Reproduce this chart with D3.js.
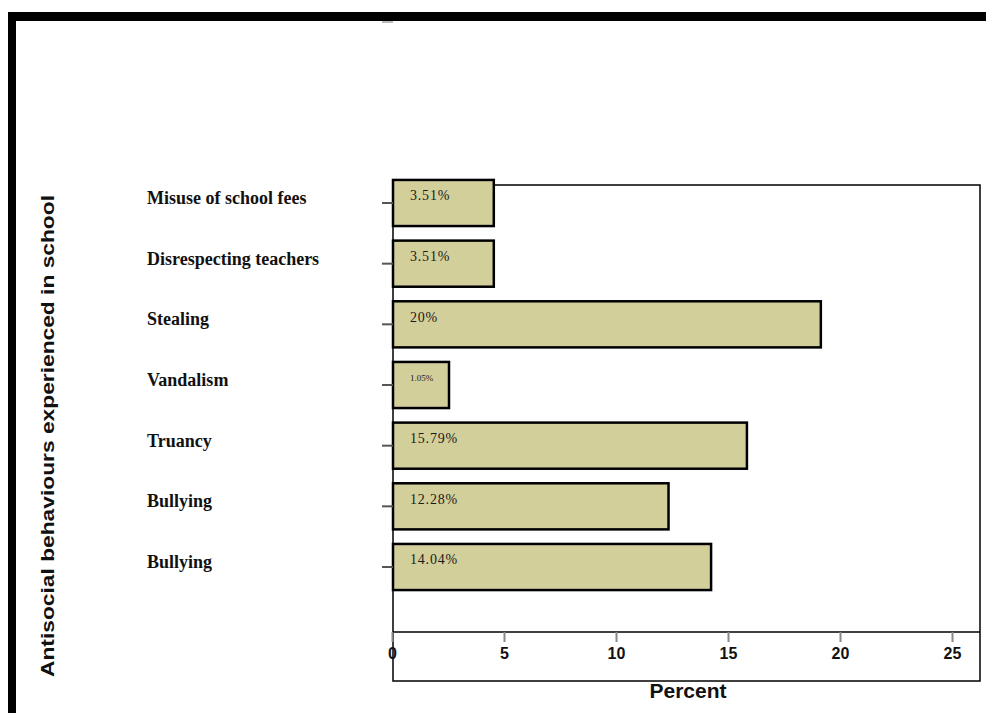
<!DOCTYPE html>
<html>
<head>
<meta charset="utf-8">
<script src="https://cdn.jsdelivr.net/npm/d3@7"></script>
<style>
    body { margin: 0; background: #fff; }
    svg { display: block; }
</style>
</head>
<body>
<div id="chart"></div>
<script>

// categories, top to bottom
let categories = ["Misuse of school fees", "Disrespecting teachers", "Stealing", "Vandalism", "Truancy", "Bullying", "Bullying"];

// bar lengths as drawn (percent)
let values = [4.5, 4.5, 19.1, 2.5, 15.8, 12.3, 14.2];

// text printed inside each bar
let barLabels = ["3.51%", "3.51%", "20%", "1.05%", "15.79%", "12.28%", "14.04%"];

let xTicks = [0, 5, 10, 15, 20, 25];

let width = 986, height = 713;

let svg = d3.select("#chart").append("svg")
    .attr("width", width)
    .attr("height", height);

// plot box
let box = {left: 393, right: 980, top: 185, axis: 632, bottom: 681};

// thick frame, top and left
svg.append("rect")
    .attr("x", 8).attr("y", 12)
    .attr("width", width - 8).attr("height", 9)
    .attr("fill", "#000");
svg.append("rect")
    .attr("x", 8).attr("y", 12)
    .attr("width", 8).attr("height", height - 12)
    .attr("fill", "#000");

// stray grey mark under the frame
svg.append("line")
    .attr("x1", 382).attr("x2", 393)
    .attr("y1", 22).attr("y2", 22)
    .attr("stroke", "#bbb").attr("stroke-width", 2);

// scales
let x = d3.scaleLinear()
    .domain([0, 26.25])
    .range([392, box.right]);

let step = 60.67;
let y = d3.scaleBand()
    .domain(d3.range(categories.length))
    .range([203 - step / 2, 567 + step / 2])
    .paddingInner(0.24)
    .paddingOuter(0.12);

// box outline
svg.append("rect")
    .attr("x", box.left).attr("y", box.top)
    .attr("width", box.right - box.left)
    .attr("height", box.bottom - box.top)
    .attr("fill", "none")
    .attr("stroke", "#000")
    .attr("stroke-width", 1.5);

svg.append("line")
    .attr("x1", box.left).attr("x2", box.right)
    .attr("y1", box.axis).attr("y2", box.axis)
    .attr("stroke", "#000").attr("stroke-width", 1.5);

// bars
svg.selectAll(".bar")
    .data(values)
    .enter()
    .append("rect")
    .attr("class", "bar")
    .attr("x", x(0) + 1)
    .attr("y", (d, i) => y(i))
    .attr("width", d => x(d) - x(0))
    .attr("height", y.bandwidth())
    .attr("fill", "#d3cf9b")
    .attr("stroke", "#000")
    .attr("stroke-width", 2.5);

// labels inside bars
svg.selectAll(".bar-label")
    .data(barLabels)
    .enter()
    .append("text")
    .attr("class", "bar-label")
    .attr("x", x(0) + 18)
    .attr("y", (d, i) => y(i) + y.bandwidth() / 2 - 6)
    .attr("dominant-baseline", "middle")
    .style("font-family", "'Liberation Serif', 'DejaVu Serif', serif")
    .style("font-size", (d, i) => values[i] < 3 ? "9px" : "14px")
    .style("letter-spacing", (d, i) => values[i] < 3 ? "0px" : "0.8px")
    .style("fill", "#1a1a1a")
    .text(d => d);

// y axis ticks (labels drawn separately, left aligned)
let yAxis = d3.axisLeft(y).tickSize(11).tickFormat("");
let yAxisG = svg.append("g")
    .attr("transform", `translate(${box.left},0)`)
    .call(yAxis);
yAxisG.select(".domain").remove();
yAxisG.selectAll(".tick line")
    .attr("stroke", "#555")
    .attr("stroke-width", 2);

svg.selectAll(".cat-label")
    .data(categories)
    .enter()
    .append("text")
    .attr("class", "cat-label")
    .attr("x", 147)
    .attr("y", (d, i) => y(i) + y.bandwidth() / 2 - 3)
    .attr("dominant-baseline", "middle")
    .style("font-family", "'Liberation Serif', 'DejaVu Serif', serif")
    .style("font-weight", "bold")
    .style("font-size", "18px")
    .style("fill", "#111")
    .text(d => d);

// x axis
let xAxis = d3.axisBottom(x)
    .tickValues(xTicks)
    .tickSize(10)
    .tickPadding(6);
let xAxisG = svg.append("g")
    .attr("transform", `translate(0,${box.axis})`)
    .call(xAxis);
xAxisG.select(".domain").remove();
xAxisG.selectAll(".tick line")
    .attr("stroke", "#888")
    .attr("stroke-width", 2);
xAxisG.selectAll(".tick text")
    .style("font-family", "'Liberation Sans', Arial, sans-serif")
    .style("font-weight", "bold")
    .style("font-size", "16px")
    .style("fill", "#111");

// axis titles
svg.append("text")
    .attr("x", 688)
    .attr("y", 698)
    .attr("text-anchor", "middle")
    .style("font-family", "'Liberation Sans', Arial, sans-serif")
    .style("font-weight", "bold")
    .style("font-size", "21px")
    .style("fill", "#111")
    .text("Percent");

svg.append("text")
    .attr("transform", "translate(54,436) rotate(-90)")
    .attr("text-anchor", "middle")
    .attr("textLength", 482)
    .attr("lengthAdjust", "spacingAndGlyphs")
    .style("font-family", "'Liberation Sans', Arial, sans-serif")
    .style("font-weight", "bold")
    .style("font-size", "19px")
    .style("fill", "#111")
    .text("Antisocial behaviours experienced in school");

</script>
</body>
</html>
